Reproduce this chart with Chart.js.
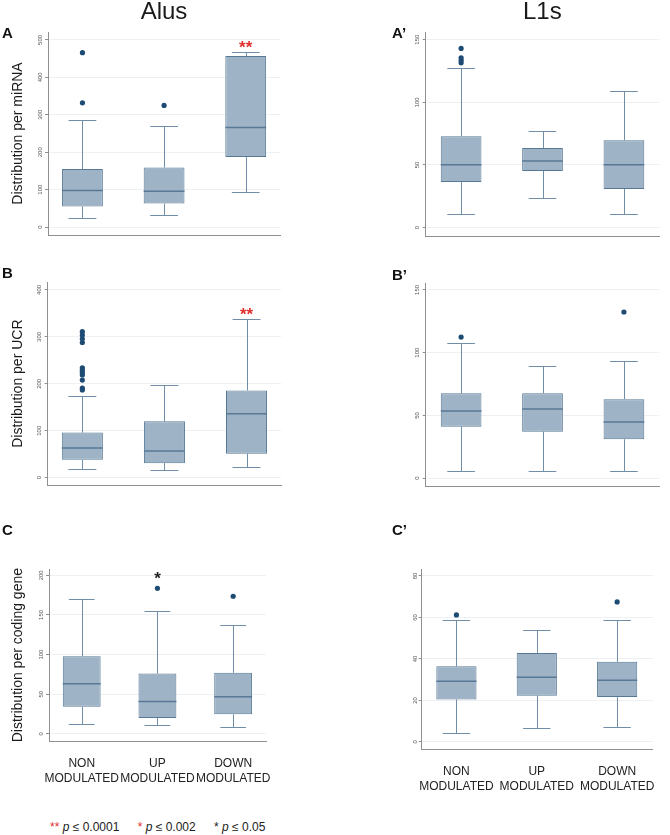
<!DOCTYPE html>
<html lang="en">
<head>
    <meta charset="UTF-8">
    <title>Alus and L1s distribution</title>
    <script src="https://cdn.jsdelivr.net/npm/chart.js"></script>
    <style>
        body { margin: 0; background: #fff; width: 670px; height: 835px; position: relative; overflow: hidden; }
        canvas { position: absolute; }
        #note { position: absolute; left: 50px; top: 820px; font: 12px "Liberation Sans", Arial, sans-serif; color: #222; line-height: 15px; white-space: nowrap; }
        #note span.g { margin-right: 15px; }
        .red { color: #e0302e; }
    </style>
</head>
<body>
    <canvas id="panelA" width="284" height="239" style="left:0px;top:0px"></canvas>
    <canvas id="panelA2" width="273" height="240" style="left:390px;top:0px"></canvas>
    <canvas id="panelB" width="285" height="239" style="left:0px;top:250px"></canvas>
    <canvas id="panelB2" width="273" height="240" style="left:390px;top:250px"></canvas>
    <canvas id="panelC" width="286" height="281" style="left:0px;top:510px"></canvas>
    <canvas id="panelC2" width="280" height="289" style="left:390px;top:510px"></canvas>
    <div id="note">
        <span class="g"><span class="red">**</span> <i>p</i> ≤ 0.0001</span>
        <span class="g"><span class="red">*</span> <i>p</i> ≤ 0.002</span>
        <span>* <i>p</i> ≤ 0.05</span>
    </div>

    <script>
        const groups = [['NON', 'MODULATED'], ['UP', 'MODULATED'], ['DOWN', 'MODULATED']];

        // A: Alus, distribution per miRNA
        const aLow = [23, 33, 94];
        const aQ1 = [55, 63, 187];
        const aMed = [98, 96, 266];
        const aQ3 = [155, 159, 457];
        const aHigh = [287, 270, 467];
        const aOut = [[466, 332], [325], []];
        const aSig = ['', '', '**'];
        const aTicks = [0, 100, 200, 300, 400, 500];

        // A': L1s, distribution per miRNA
        const a2Low = [11, 24, 11];
        const a2Q1 = [36.4, 45.2, 30.9];
        const a2Med = [50.2, 53.1, 50.2];
        const a2Q3 = [72.9, 63.6, 69.7];
        const a2High = [127, 77, 109];
        const a2Out = [[143, 135.5, 133.5, 131.5], [], []];
        const a2Ticks = [0, 50, 100, 150];

        // B: Alus, distribution per UCR
        const bLow = [19, 15.5, 23];
        const bQ1 = [38, 31, 51];
        const bMed = [63, 57, 136];
        const bQ3 = [96, 120, 186];
        const bHigh = [173, 197, 339];
        const bOut = [[311, 304, 296, 288, 234, 229, 224, 219, 208, 191, 187], [], []];
        const bSig = ['', '', '**'];
        const bTicks = [0, 100, 200, 300, 400];

        // B': L1s, distribution per UCR
        const b2Low = [6, 6, 6];
        const b2Q1 = [41, 37, 31];
        const b2Med = [53.4, 55, 44.7];
        const b2Q3 = [67.6, 67.6, 62.9];
        const b2High = [108, 89.5, 93.4];
        const b2Out = [[112.4], [], [132.4]];
        const b2Ticks = [0, 50, 100, 150];

        // C: Alus, distribution per coding gene
        const cLow = [12, 11, 8.6];
        const cQ1 = [34, 20, 24.6];
        const cMed = [63, 40.7, 46.6];
        const cQ3 = [98, 76, 77];
        const cHigh = [170, 155.5, 137.5];
        const cOut = [[], [183.6], [173.6]];
        const cSig = ['', '*', ''];
        const cTicks = [0, 50, 100, 150, 200];

        // C': L1s, distribution per coding gene
        const c2Low = [4.4, 6.6, 7.1];
        const c2Q1 = [20.5, 22.3, 21.6];
        const c2Med = [29.2, 31.2, 29.7];
        const c2Q3 = [36.5, 42.9, 38.6];
        const c2High = [58.6, 53.9, 58.9];
        const c2Out = [[61.2], [], [67.5]];
        const c2Ticks = [0, 20, 40, 60, 80];

        const FONT = '"Liberation Sans", Arial, sans-serif';
        Chart.defaults.font.family = FONT;

        const boxFill = 'rgb(159,179,198)';
        const boxLine = 'rgb(88,121,150)';
        const whiskerLine = 'rgb(112,142,167)';
        const dotColor = 'rgb(30,75,115)';
        const axisColor = '#8f8f8f';

        // whiskers, caps, medians and significance stars
        const boxParts = {
            id: 'boxParts',
            beforeDatasetsDraw(chart, args, o) {
                const {ctx, scales: {x, y}} = chart;
                ctx.save();
                ctx.strokeStyle = whiskerLine;
                ctx.lineWidth = 1;
                o.low.forEach((lo, i) => {
                    const cx = Math.round(x.getPixelForValue(i + 1)) + 0.5;
                    const c0 = x.getPixelForValue(i + 1 - o.cap);
                    const c1 = x.getPixelForValue(i + 1 + o.cap);
                    [[lo, o.q1[i]], [o.high[i], o.q3[i]]].forEach(([end, edge]) => {
                        const ye = Math.round(y.getPixelForValue(end)) + 0.5;
                        ctx.beginPath();
                        ctx.moveTo(cx, y.getPixelForValue(edge));
                        ctx.lineTo(cx, ye);
                        ctx.moveTo(c0, ye);
                        ctx.lineTo(c1, ye);
                        ctx.stroke();
                    });
                });
                ctx.restore();
            },
            afterDatasetsDraw(chart, args, o) {
                const {ctx, scales: {x, y}} = chart;
                ctx.save();
                ctx.strokeStyle = boxLine;
                ctx.lineWidth = 1.5;
                o.med.forEach((m, i) => {
                    const ym = y.getPixelForValue(m);
                    ctx.beginPath();
                    ctx.moveTo(x.getPixelForValue(i + 0.75), ym);
                    ctx.lineTo(x.getPixelForValue(i + 1.25), ym);
                    ctx.stroke();
                });
                (o.sig || []).forEach((s, i) => {
                    if (!s) return;
                    const top = Math.max(o.high[i], ...(o.out[i] || []));
                    ctx.font = 'bold 17px ' + FONT;
                    ctx.fillStyle = s === '**' || o.sigRed ? '#e0302e' : '#222';
                    ctx.textAlign = 'center';
                    ctx.textBaseline = 'middle';
                    ctx.fillText(s, x.getPixelForValue(i + 1), y.getPixelForValue(top) - o.gap);
                });
                ctx.restore();
            }
        };

        const panelLetter = {
            id: 'panelLetter',
            afterDraw(chart, args, o) {
                const ctx = chart.ctx;
                ctx.save();
                ctx.font = 'bold 15px ' + FONT;
                ctx.fillStyle = '#111';
                ctx.textBaseline = 'middle';
                ctx.fillText(o.text, o.x, o.y);
                ctx.restore();
            }
        };

        function drawPanel(id, p) {
            new Chart(document.getElementById(id), {
                type: 'bar',
                data: {
                    datasets: [
                        {
                            data: p.q1.map((v, i) => ({x: i + 1, y: [v, p.q3[i]]})),
                            backgroundColor: boxFill,
                            borderColor: boxLine,
                            borderWidth: 1,
                            borderSkipped: false,
                            categoryPercentage: 1,
                            barPercentage: 0.5
                        },
                        {
                            type: 'scatter',
                            data: p.out.flatMap((vals, i) => vals.map(v => ({x: i + 1, y: v}))),
                            pointRadius: 2.6,
                            pointBackgroundColor: dotColor,
                            pointBorderWidth: 0
                        }
                    ]
                },
                plugins: [boxParts, panelLetter],
                options: {
                    responsive: false,
                    animation: false,
                    events: [],
                    layout: {padding: {top: p.padTop, left: 0, right: 0, bottom: 0}},
                    plugins: {
                        legend: {display: false},
                        tooltip: {enabled: false},
                        title: p.title ? {
                            display: true, text: p.title, fullSize: false,
                            font: {size: 24, weight: 'normal', lineHeight: 1},
                            color: '#1a1a1a', padding: {top: 0, bottom: 8}
                        } : {display: false},
                        boxParts: {low: p.low, q1: p.q1, med: p.med, q3: p.q3, high: p.high, out: p.out,
                                   sig: p.sig, gap: p.gap || 4, cap: 0.17},
                        panelLetter: p.letter
                    },
                    scales: {
                        x: {
                            type: 'linear',
                            min: p.xRange[0],
                            max: p.xRange[1],
                            offset: false,
                            afterBuildTicks: s => { s.ticks = groups.map((g, i) => ({value: i + 1})); },
                            afterFit: s => { s.height = p.labels ? 50 : 2; },
                            grid: {display: false, drawTicks: false},
                            border: {color: axisColor, width: 1},
                            ticks: {
                                display: !!p.labels,
                                callback: v => groups[v - 1],
                                font: {size: 12, lineHeight: 1.25},
                                color: '#222',
                                padding: 15,
                                maxRotation: 0
                            }
                        },
                        y: {
                            min: p.yRange[0],
                            max: p.yRange[1],
                            afterBuildTicks: s => { s.ticks = p.ticks.map(v => ({value: v})); },
                            afterFit: s => { s.width = p.yWidth; },
                            grid: {color: '#edf1f4', tickColor: axisColor, tickLength: 3},
                            border: {color: axisColor, width: 1},
                            ticks: {minRotation: 90, maxRotation: 90, crossAlign: 'center', padding: 0,
                                    font: {size: 6}, color: '#555'},
                            title: p.yTitle ? {display: true, text: p.yTitle, font: {size: 14},
                                               color: '#1a1a1a', padding: {top: 10}} : {display: false}
                        }
                    }
                }
            });
        }

        drawPanel('panelA', {
            low: aLow, q1: aQ1, med: aMed, q3: aQ3, high: aHigh, out: aOut, sig: aSig, ticks: aTicks,
            title: 'Alus', yTitle: 'Distribution per miRNA', letter: {text: 'A', x: 2, y: 34},
            padTop: 0, yWidth: 48, xRange: [0.578, 3.42], yRange: [-21.2, 521.2], gap: 4
        });
        drawPanel('panelA2', {
            low: a2Low, q1: a2Q1, med: a2Med, q3: a2Q3, high: a2High, out: a2Out, ticks: a2Ticks,
            title: 'L1s', letter: {text: 'A\u2019', x: 2, y: 34},
            padTop: 0, yWidth: 35.7, xRange: [0.565, 3.431], yRange: [-6.66, 156.1]
        });
        drawPanel('panelB', {
            low: bLow, q1: bQ1, med: bMed, q3: bQ3, high: bHigh, out: bOut, sig: bSig, ticks: bTicks,
            yTitle: 'Distribution per UCR', letter: {text: 'B', x: 2, y: 24},
            padTop: 32.3, yWidth: 47.7, xRange: [0.578, 3.42], yRange: [-15.6, 416.3], gap: 3
        });
        drawPanel('panelB2', {
            low: b2Low, q1: b2Q1, med: b2Med, q3: b2Q3, high: b2High, out: b2Out, ticks: b2Ticks,
            letter: {text: 'B\u2019', x: 2, y: 25.5},
            padTop: 33.3, yWidth: 35.7, xRange: [0.565, 3.431], yRange: [-6.3, 155.3]
        });
        drawPanel('panelC', {
            low: cLow, q1: cQ1, med: cMed, q3: cQ3, high: cHigh, out: cOut, sig: cSig, ticks: cTicks,
            yTitle: 'Distribution per coding gene', letter: {text: 'C', x: 2, y: 21.3}, labels: true,
            padTop: 59.3, yWidth: 49, xRange: [0.568, 3.435], yRange: [-9.1, 207.6], gap: 9
        });
        drawPanel('panelC2', {
            low: c2Low, q1: c2Q1, med: c2Med, q3: c2Q3, high: c2High, out: c2Out, ticks: c2Ticks,
            letter: {text: 'C\u2019', x: 2, y: 21}, labels: true,
            padTop: 59.3, yWidth: 31.7, xRange: [0.568, 3.446], yRange: [-3.4, 83.2]
        });
    </script>
</body>
</html>
